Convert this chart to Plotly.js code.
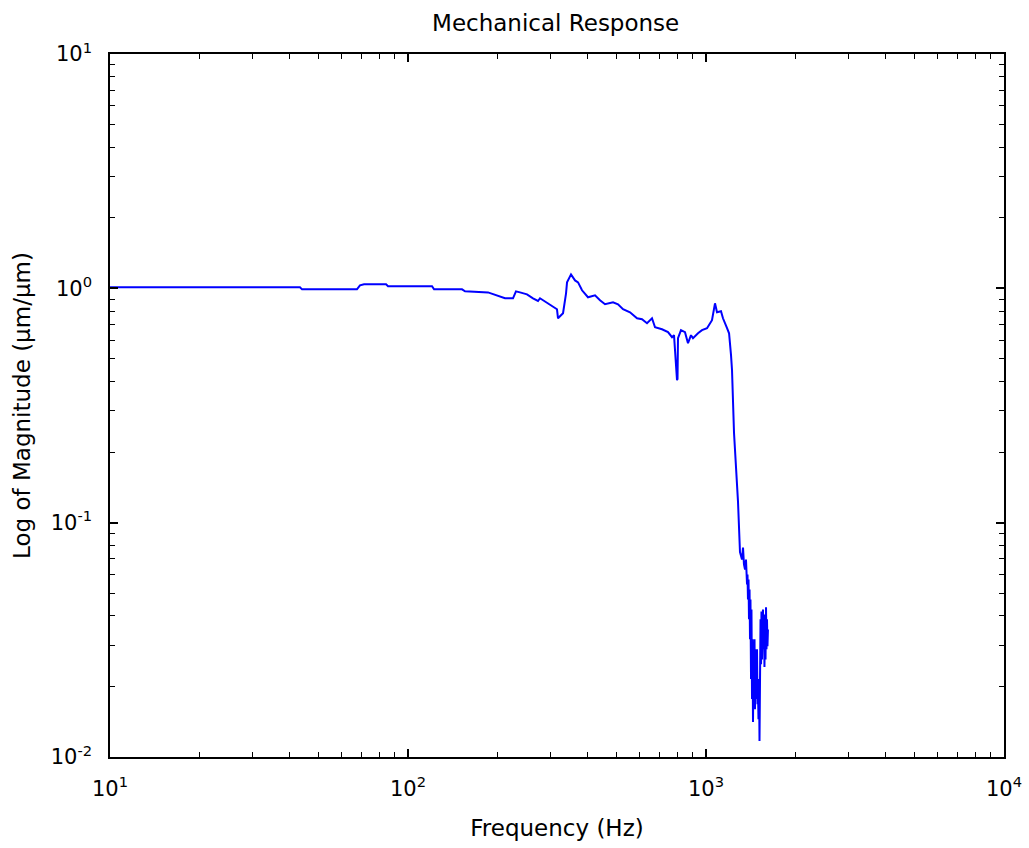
<!DOCTYPE html>
<html>
<head>
<meta charset="utf-8">
<script src="https://cdn.plot.ly/plotly-3.0.1.min.js"></script>
<style>html,body{margin:0;padding:0;background:#fff;}#chart{width:1029px;height:848px;}</style>
</head>
<body>
<div id="chart"></div>
<script>
// Frequency (Hz)
var frequency = [
  10, 43.4, 44.1, 67.4, 69.0, 71.2, 84.4, 85.7, 120.4, 122.3, 151.8, 155.4, 185.6, 199.0, 211.6, 225.1,
  230.3, 237.6, 250.8, 262.7, 273.1, 277.3, 283.8, 299.6, 316.2, 318.7, 331.3, 339.1, 341.7, 352.4,
  363.5, 372.1, 383.7, 401.8, 424.2, 440.9, 458.3, 487.5, 506.7, 526.7, 555.9, 586.9, 609.9, 633.9,
  658.9, 674.4, 711.8, 745.6, 769.0, 781.0, 799.3, 802.4, 805.4, 824.3, 850.2, 870.1, 890.5, 904.4,
  940.0, 969.6, 1007.9, 1047.4, 1072.0, 1088.7, 1122.8, 1140.2, 1176.5, 1195.0, 1213.3, 1222.6,
  1241.6, 1260.8, 1280.5, 1300.4,
  1320.7, 1331, 1341, 1352, 1362, 1373, 1378, 1383, 1389, 1394, 1400, 1405, 1410, 1416, 1421, 1427,
  1432, 1438, 1444, 1449, 1455, 1460, 1466, 1472, 1477, 1483, 1489, 1494, 1500, 1506, 1512, 1518,
  1524, 1530, 1535, 1541, 1547, 1553, 1559, 1565, 1571, 1578, 1584, 1590, 1596, 1602, 1608, 1614
];
// Magnitude (um/um)
var magnitude = [
  1.01, 1.01, 0.99, 0.99, 1.03, 1.04, 1.04, 1.02, 1.02, 0.99, 0.99, 0.971, 0.961, 0.934, 0.907, 0.907,
  0.971, 0.961, 0.943, 0.907, 0.883, 0.907, 0.889, 0.847, 0.814, 0.745, 0.783, 0.952, 1.060, 1.147,
  1.081, 1.060, 0.981, 0.916, 0.934, 0.889, 0.855, 0.872, 0.855, 0.814, 0.790, 0.745, 0.738, 0.710,
  0.745, 0.682, 0.669, 0.650, 0.619, 0.631, 0.406, 0.410, 0.613, 0.663, 0.650, 0.583, 0.631, 0.613,
  0.643, 0.663, 0.676, 0.731, 0.863, 0.790, 0.798, 0.745, 0.676, 0.643, 0.519, 0.448,
  0.242, 0.171, 0.123, 0.0748,
  0.0696, 0.0783, 0.0663, 0.0631, 0.0696, 0.0545, 0.0601, 0.0470, 0.0572, 0.0387, 0.0519, 0.0318,
  0.0470, 0.0215, 0.0426, 0.0177, 0.0318, 0.0141, 0.0261, 0.0177, 0.0318, 0.0160, 0.0215, 0.0288,
  0.0177, 0.0288, 0.0168, 0.0195, 0.0145, 0.0215, 0.0117, 0.0177, 0.0387, 0.0249, 0.0418, 0.0261,
  0.0318, 0.0426, 0.0288, 0.0387, 0.0242, 0.0406, 0.0261, 0.0435, 0.0288, 0.0387, 0.0297, 0.0350
];

var xMajorVals = [10, 100, 1000, 10000];
var xMajorText = ['10<sup>1</sup>', '10<sup>2</sup>', '10<sup>3</sup>', '10<sup>4</sup>'];
var yMajorVals = [0.01, 0.1, 1, 10];
var yMajorText = ['10<sup>-2</sup>', '10<sup>-1</sup>', '10<sup>0</sup>', '10<sup>1</sup>'];

function minorVals(lo, hi) {
  var out = [];
  for (var d = lo; d < hi; d *= 10) {
    for (var k = 2; k <= 9; k++) out.push(d * k);
  }
  return out;
}

var trace = {
  x: frequency,
  y: magnitude,
  type: 'scatter',
  mode: 'lines',
  line: {color: '#0000ff', width: 2},
  hoverinfo: 'x+y'
};

var tickFont = {family: 'DejaVu Sans, Arial, sans-serif', size: 21, color: '#000'};
var titleFont = {family: 'DejaVu Sans, Arial, sans-serif', size: 23, color: '#000'};

var layout = {
  width: 1029,
  height: 848,
  paper_bgcolor: '#ffffff',
  plot_bgcolor: '#ffffff',
  showlegend: false,
  margin: {l: 110, r: 25, t: 54, b: 91, pad: 0},
  title: {
    text: 'Mechanical Response',
    font: titleFont,
    x: 0.54, xanchor: 'center',
    y: 0.973, yanchor: 'middle'
  },
  xaxis: {
    type: 'log',
    range: [1, 4],
    showgrid: false,
    zeroline: false,
    showline: true,
    linecolor: '#000',
    linewidth: 1.5,
    mirror: 'ticks',
    ticks: 'inside',
    ticklen: 8,
    tickwidth: 1.5,
    tickcolor: '#000',
    tickmode: 'array',
    tickvals: xMajorVals,
    ticktext: xMajorText,
    tickfont: tickFont,
    ticklabelstandoff: 12,
    minor: {
      tickmode: 'array',
      tickvals: minorVals(10, 10000),
      ticks: 'inside',
      ticklen: 5,
      tickwidth: 1.2,
      tickcolor: '#000',
      showgrid: false
    },
    title: {text: 'Frequency (Hz)', font: titleFont, standoff: 20}
  },
  yaxis: {
    type: 'log',
    range: [-2, 1],
    showgrid: false,
    zeroline: false,
    showline: true,
    linecolor: '#000',
    linewidth: 1.5,
    mirror: 'ticks',
    ticks: 'inside',
    ticklen: 8,
    tickwidth: 1.5,
    tickcolor: '#000',
    tickmode: 'array',
    tickvals: yMajorVals,
    ticktext: yMajorText,
    tickfont: tickFont,
    ticklabelstandoff: 12,
    minor: {
      tickmode: 'array',
      tickvals: minorVals(0.01, 10),
      ticks: 'inside',
      ticklen: 5,
      tickwidth: 1.2,
      tickcolor: '#000',
      showgrid: false
    },
    title: {text: 'Log of Magnitude (μm/μm)', font: titleFont, standoff: 14}
  }
};

Plotly.newPlot('chart', [trace], layout, {displayModeBar: false});
</script>
</body>
</html>
